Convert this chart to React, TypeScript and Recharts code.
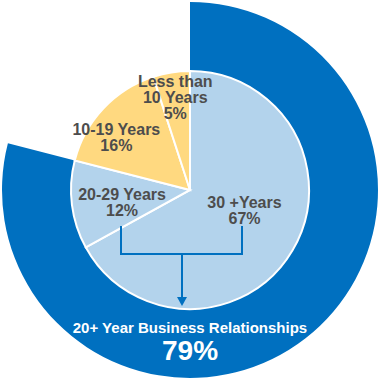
import { PieChart, Pie, Cell } from "recharts";

const ringNames = ["20+ Year Business Relationships", "Other"];
const ringValues = [79, 21];

const ageNames = ["30 +Years", "20-29 Years", "10-19 Years", "Less than\n10 Years"];
const ageValues = [67, 12, 16, 5];
const ageColors = ["#B3D3EC", "#B3D3EC", "#FFD980", "#FFD980"];

// label placement in polar coords (radius, degrees clockwise from 12 o'clock)
const labelRadius = [58, 69, 91, 94];
const labelAngle = [110, 260, 306, 351];

const ringData = ringNames.map((name, i) => ({ name, value: ringValues[i] }));
const ageData = ageNames.map((name, i) => ({ name, value: ageValues[i] }));

const CX = 190;
const CY = 190;
const RAD = Math.PI / 180;
const BLUE = "#0070C0";
const FONT = "'Liberation Sans', Arial, sans-serif";

function AgeLabel(props: any) {
  const { index } = props;
  const r = labelRadius[index];
  const a = labelAngle[index] * RAD;
  const x = CX + r * Math.sin(a);
  const y = CY - r * Math.cos(a);
  const lines = [...ageNames[index].split("\n"), `${ageValues[index]}%`];
  const top = y - ((lines.length - 1) * 16) / 2;
  return (
    <text
      x={x}
      y={top}
      textAnchor="middle"
      dominantBaseline="central"
      fill="#4D4D4D"
      fontSize={16}
      fontWeight="bold"
      fontFamily={FONT}
    >
      {lines.map((l, i) => (
        <tspan key={i} x={x} dy={i === 0 ? 0 : 16}>
          {l}
        </tspan>
      ))}
    </text>
  );
}

// bracket joining the two 20+ slices, pointing at the ring caption
function Annotation() {
  const l = 121;
  const r = 242;
  const mid = 182;
  const y0 = 226;
  const y1 = 254;
  const tip = 306;
  return (
    <svg
      width={380}
      height={380}
      style={{ position: "absolute", left: 0, top: 0, pointerEvents: "none" }}
    >
      <path
        d={`M${l},${y0} V${y1} H${r} V${y0} M${mid},${y1} V${tip - 8}`}
        stroke={BLUE}
        strokeWidth={2}
        fill="none"
      />
      <path d={`M${mid - 5},${tip - 9} L${mid + 5},${tip - 9} L${mid},${tip} Z`} fill={BLUE} />
      <text
        x={CX}
        y={327}
        textAnchor="middle"
        dominantBaseline="central"
        fill="#fff"
        fontSize={15}
        fontWeight="bold"
        fontFamily={FONT}
      >
        {ringNames[0]}
      </text>
      <text
        x={CX}
        y={350}
        textAnchor="middle"
        dominantBaseline="central"
        fill="#fff"
        fontSize={28}
        fontWeight="bold"
        fontFamily={FONT}
      >
        {ringValues[0]}%
      </text>
    </svg>
  );
}

export default function App() {
  return (
    <div style={{ position: "absolute", left: 0, top: 0, width: 380, height: 380, background: "#fff" }}>
      <PieChart width={380} height={380} margin={{ top: 0, right: 0, bottom: 0, left: 0 }}>
        <Pie
          data={ringData}
          dataKey="value"
          cx={CX}
          cy={CY}
          innerRadius={117}
          outerRadius={188}
          startAngle={90}
          endAngle={-270}
          stroke="none"
          isAnimationActive={false}
        >
          <Cell fill={BLUE} />
          <Cell fill="transparent" />
        </Pie>
        <Pie
          data={ageData}
          dataKey="value"
          cx={CX}
          cy={CY}
          innerRadius={0}
          outerRadius={119}
          startAngle={90}
          endAngle={-270}
          stroke="#fff"
          strokeWidth={2}
          label={AgeLabel}
          labelLine={false}
          isAnimationActive={false}
        >
          {ageData.map((d, i) => (
            <Cell key={d.name} fill={ageColors[i]} />
          ))}
        </Pie>
      </PieChart>
      <Annotation />
    </div>
  );
}
